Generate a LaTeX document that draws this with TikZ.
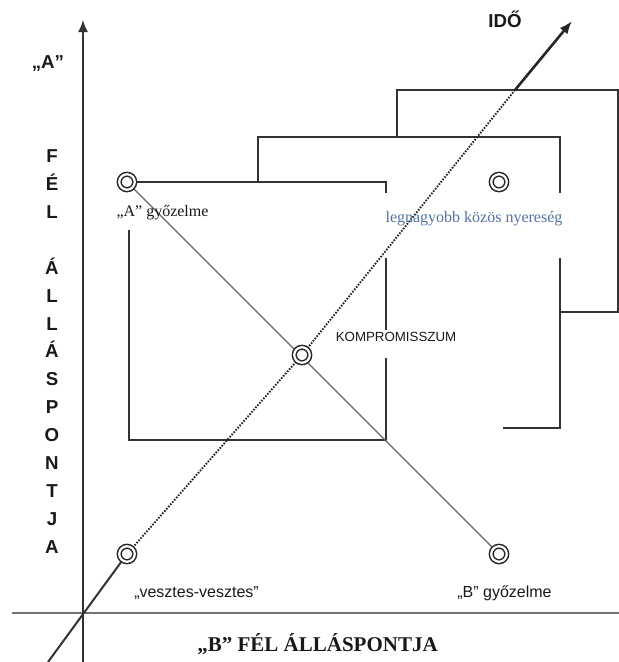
\documentclass[tikz,border=0pt]{standalone}
\usepackage{fontspec}
\setmainfont{Liberation Serif}
\setsansfont{Liberation Sans}
\usetikzlibrary{arrows.meta,backgrounds}
\definecolor{kek}{RGB}{84,112,166}

\begin{document}
\begin{tikzpicture}[x=1pt,y=-1pt,
   kor/.style={circle,draw=black!85,fill=white,double,double distance=2.2pt,
               line width=1.5pt,minimum size=15.5pt,inner sep=0pt},
   keret/.style={draw=black!80,line width=1.6pt},
   felirat/.style={inner sep=0pt,anchor=base,text=black!90}]
   \useasboundingbox (0,0) rectangle (619,662);
   % pontok
   \node[kor] (agy)   at (127,182) {};
   \node[kor] (kozos) at (499,182) {};
   \node[kor] (komp)  at (302,355) {};
   \node[kor] (veszt) at (127,554) {};
   \node[kor] (bgy)   at (499,554) {};
   \coordinate (alja)  at (48,662);
   \coordinate (tores) at (515,90);
   \coordinate (hegy)  at (572,21);
   \coordinate (ytalp) at (83,662);
   \coordinate (ycsucs) at (83,20);
   \coordinate (xbal)  at (12,613);
   \coordinate (xjobb) at (619,613);
   \begin{scope}[on background layer]
   % tengelyek
   \draw[black!55,line width=2.4pt] (xbal) -- (xjobb);
   \draw[black!80,line width=1.7pt,-{Latex[length=12pt,width=10pt]}] (ytalp) -- (ycsucs);
   % keretek
   \draw[keret] (agy) -- (386,182) -- (386,193);
   \draw[keret] (386,258) -- (386,330);
   \draw[keret] (386,358) -- (386,440) -- (129,440) -- (129,230);
   \draw[keret] (258,182) -- (258,137) -- (560,137) -- (560,193);
   \draw[keret] (560,258) -- (560,428) -- (503,428);
   \draw[keret] (397,137) -- (397,90) -- (618,90) -- (618,312) -- (560,312);
   % atlo es ido
   \draw[black!60,line width=1.4pt] (agy) -- (bgy);
   \draw[black!80,line width=2pt] (alja) -- (veszt);
   \draw[black!85,dash pattern=on 1.6pt off 1.4pt,line width=1.9pt] (veszt) -- (komp) -- (tores);
   \draw[black!85,line width=2.6pt,-{Latex[length=13pt,width=10pt]}] (tores) -- (hegy);
   \end{scope}
   % szovegek
   \node[felirat,font=\sffamily\bfseries\fontsize{18.7}{22}\selectfont] (acim) at (48,68) {„A”};
   \node[inner sep=0pt,align=center,text=black!90,
         font=\sffamily\bfseries\fontsize{18.7}{27.9}\selectfont] (allas) at (52,351.5)
         {F\\É\\L\\[27.9pt]Á\\L\\L\\Á\\S\\P\\O\\N\\T\\J\\A};
   \node[felirat,font=\sffamily\bfseries\fontsize{18.7}{22}\selectfont] (ido) at (505,27.5) {IDŐ};
   \node[felirat,font=\bfseries\fontsize{21}{25}\selectfont] (bcim) at (317.5,651) {„B” FÉL ÁLLÁSPONTJA};
   \node[felirat,font=\fontsize{16}{19}\selectfont] (agyt) at (162.5,216.5) {„A” győzelme};
   \node[felirat,text=kek,font=\fontsize{16}{19}\selectfont] (kozost) at (474,222) {legnagyobb közös nyereség};
   \node[felirat,font=\sffamily\fontsize{13.3}{16}\selectfont] (kompt) at (396,341.5) {KOMPROMISSZUM};
   \node[felirat,font=\sffamily\fontsize{16}{19}\selectfont] (vesztt) at (196.5,597) {„vesztes-vesztes”};
   \node[felirat,font=\sffamily\fontsize{16}{19}\selectfont] (bgyt) at (504.5,597) {„B” győzelme};
\end{tikzpicture}
\end{document}
